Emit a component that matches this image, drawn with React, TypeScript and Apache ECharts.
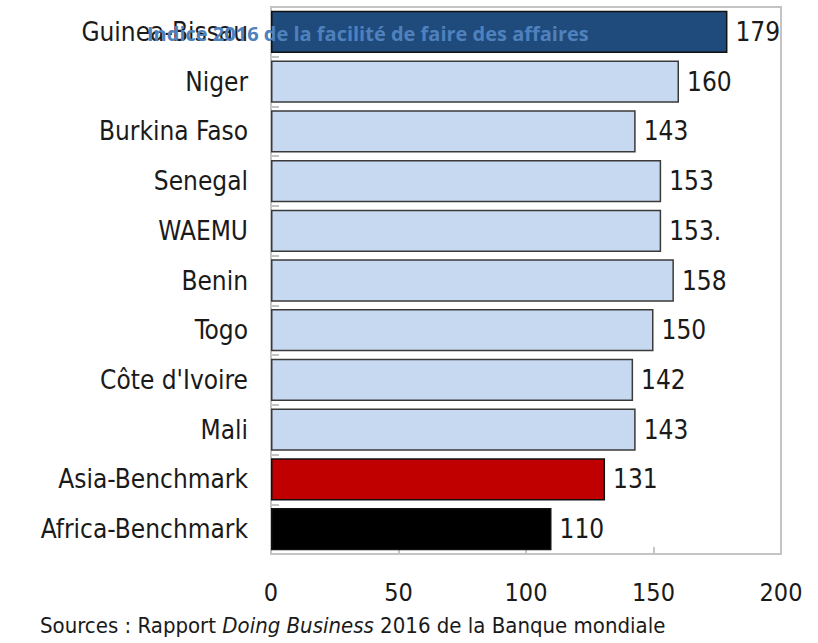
import React, { useEffect, useRef } from "react";
import * as echarts from "echarts";

const categories = [
  "Guinea-Bissau",
  "Niger",
  "Burkina Faso",
  "Senegal",
  "WAEMU",
  "Benin",
  "Togo",
  "Côte d'Ivoire",
  "Mali",
  "Asia-Benchmark",
  "Africa-Benchmark",
];
const values = [179, 160, 143, 153, 153, 158, 150, 142, 143, 131, 110];
const valueLabels = ["179", "160", "143", "153", "153.", "158", "150", "142", "143", "131", "110"];
const barColors = [
  "#1f4a7c",
  "#c6d9f1",
  "#c6d9f1",
  "#c6d9f1",
  "#c6d9f1",
  "#c6d9f1",
  "#c6d9f1",
  "#c6d9f1",
  "#c6d9f1",
  "#c00000",
  "#000000",
];
const xTicks = [0, 50, 100, 150, 200];
const title = "Indice 2016 de la facilité de faire des affaires";

const FONT = "'DejaVu Sans Condensed', 'Liberation Sans Narrow', 'Liberation Sans', sans-serif";

export default function App() {
  const ref = useRef<HTMLDivElement>(null);
  useEffect(() => {
    if (!ref.current) return;
    const chart = echarts.init(ref.current, undefined, { renderer: "svg" });
    chart.setOption({
      animation: false,
      backgroundColor: "#ffffff",
      title: {
        text: title,
        left: 142,
        top: 18,
        textStyle: {
          fontFamily: "'Open Sans', 'Noto Sans', sans-serif",
          fontWeight: "bold",
          fontSize: 20,
          color: "#4f81bd",
        },
      },
      grid: {
        left: 271,
        right: 37,
        top: 7,
        bottom: 89,
        show: true,
        borderColor: "#c4c4c4",
        borderWidth: 2,
        containLabel: false,
      },
      xAxis: {
        type: "value",
        min: xTicks[0],
        max: xTicks[xTicks.length - 1],
        interval: 50,
        axisLine: { show: true, lineStyle: { color: "#c4c4c4", width: 2 } },
        axisTick: { show: true, inside: true, length: 7, lineStyle: { color: "#c4c4c4", width: 2 } },
        splitLine: { show: false },
        axisLabel: {
          margin: 26,
          fontFamily: FONT,
          fontSize: 25,
          color: "#1a1a1a",
        },
      },
      yAxis: {
        type: "category",
        data: categories,
        inverse: true,
        axisLine: { show: false },
        axisTick: { show: true, inside: true, length: 8, lineStyle: { color: "#c4c4c4", width: 2 } },
        axisLabel: {
          margin: 23,
          fontFamily: FONT,
          fontSize: 26,
          color: "#1a1a1a",
        },
      },
      series: [
        {
          type: "bar",
          barCategoryGap: "15%",
          data: values.map((v, i) => ({
            value: v,
            itemStyle: {
              color: barColors[i],
              borderColor: i === 0 || i >= 9 ? "#111111" : "#3a3a3a",
              borderWidth: 1.5,
            },
          })),
          label: {
            show: true,
            position: "right",
            distance: 8,
            fontFamily: FONT,
            fontSize: 26,
            color: "#1a1a1a",
            formatter: (p: any) => valueLabels[p.dataIndex],
          },
        },
      ],
      graphic: [
        {
          type: "text",
          left: 40,
          top: 614,
          style: {
            text: "Sources : Rapport {i|Doing Business} 2016 de la Banque mondiale",
            fontFamily: FONT,
            fontSize: 22,
            fill: "#1a1a1a",
            rich: {
              i: { fontFamily: FONT, fontSize: 22, fontStyle: "italic", fill: "#1a1a1a" },
            },
          },
        },
      ],
    });
    return () => chart.dispose();
  }, []);
  return (
    <div
      ref={ref}
      style={{ position: "fixed", left: 0, top: 0, width: 818, height: 643 }}
    />
  );
}
